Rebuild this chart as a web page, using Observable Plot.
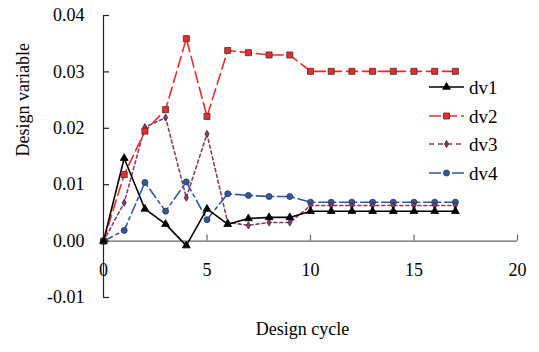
<!DOCTYPE html>
<html>
<head>
<meta charset="utf-8">
<script src="https://cdn.jsdelivr.net/npm/d3@7"></script>
<script src="https://cdn.jsdelivr.net/npm/@observablehq/plot@0.6"></script>
<style>
  html, body { margin: 0; padding: 0; background: #fff; }
  #wrap { position: relative; width: 539px; height: 352px; }
  #legend { position: absolute; left: 0; top: 0; }
  #wrap text { font-family: "Liberation Serif", "Times New Roman", serif !important; }
</style>
</head>
<body>
<div id="wrap"></div>
<script>
const cycles = [0,1,2,3,4,5,6,7,8,9,10,11,12,13,14,15,16,17];
const dv1 = [0, 0.0147, 0.0057, 0.0030, -0.0008, 0.0057, 0.0030, 0.0040, 0.0042, 0.0042, 0.0053, 0.0053, 0.0053, 0.0053, 0.0053, 0.0053, 0.0053, 0.0053];
const dv2 = [0, 0.0118, 0.0195, 0.0233, 0.0359, 0.0221, 0.0338, 0.0334, 0.0330, 0.0330, 0.0301, 0.0301, 0.0301, 0.0301, 0.0301, 0.0301, 0.0301, 0.0301];
const dv3 = [0, 0.0068, 0.0202, 0.0219, 0.0077, 0.0190, 0.0033, 0.0028, 0.0033, 0.0033, 0.0063, 0.0063, 0.0063, 0.0063, 0.0063, 0.0063, 0.0063, 0.0063];
const dv4 = [0, 0.0019, 0.0104, 0.0053, 0.0105, 0.0038, 0.0084, 0.0081, 0.0079, 0.0079, 0.0069, 0.0069, 0.0069, 0.0069, 0.0069, 0.0069, 0.0069, 0.0069];
const seriesNames = ["dv1", "dv2", "dv3", "dv4"];
const xTicks = [0, 5, 10, 15, 20];
const yTicks = [-0.01, 0, 0.01, 0.02, 0.03, 0.04];

const styles = {
  dv1: {color: "#000000", dash: null, symbol: "triangle", r: 2.9, fill: "#000000", stroke: "#000000"},
  dv2: {color: "#ee2b2b", dash: "11,5", symbol: "square", r: 3.4, fill: "#ee2b2b", stroke: "#333333"},
  dv3: {color: "#8c3a6c", dash: "3,3", symbol: "diamond", r: 2.2, fill: "#8c3a6c", stroke: "#333333"},
  dv4: {color: "#2b59aa", dash: "10,4,3,4", symbol: "circle", r: 3.0, fill: "#2b59aa", stroke: "#333333"}
};

const valuesBy = {dv1, dv2, dv3, dv4};
const rows = [];
for (const s of seriesNames) cycles.forEach((c, i) => rows.push({series: s, x: c, y: valuesBy[s][i]}));

const W = 539, H = 352, mL = 103, mR = 22, mT = 15, mB = 55;
const font = "Liberation Serif";
const yDom = [-0.01, 0.04];
const zeroPx = mT + (yDom[1] - 0) / (yDom[1] - yDom[0]) * (H - mT - mB);

const drawOrder = ["dv4", "dv3", "dv2", "dv1"];
const lineMarks = [];
for (const s of drawOrder) {
  const st = styles[s];
  const data = rows.filter(d => d.series === s);
  lineMarks.push(Plot.line(data, {x: "x", y: "y", stroke: st.color, strokeWidth: 1.6, strokeDasharray: st.dash}));
}
const dotMarks = [];
for (const s of drawOrder) {
  const st = styles[s];
  const data = rows.filter(d => d.series === s);
  dotMarks.push(Plot.dot(data, {x: "x", y: "y", symbol: () => st.symbol, r: st.r, fill: st.fill, stroke: st.stroke, strokeWidth: 0.8}));
}

const chart = Plot.plot({
  width: W, height: H,
  marginLeft: mL, marginRight: mR, marginTop: mT, marginBottom: mB,
  style: {fontFamily: font, fontSize: "18px", background: "#fff", color: "#000"},
  x: {domain: [0, 20], axis: null},
  y: {domain: yDom, axis: null},
  symbol: {type: "identity"},
  marks: [
    Plot.ruleY([0], {x1: 0, x2: 20, stroke: "#666", strokeWidth: 1.2}),
    Plot.ruleX([0], {y1: yDom[0], y2: yDom[1], stroke: "#222", strokeWidth: 1.2}),
    Plot.tickY(yTicks, {y: d => d, stroke: "#222", strokeWidth: 1.2, insetRight: W - mL - mR - 6}),
    Plot.tickX(xTicks.slice(1), {x: d => d, stroke: "#666", strokeWidth: 1.2, insetTop: zeroPx - 6 - mT, insetBottom: H - mB - zeroPx}),
    Plot.text(yTicks, {x: 0, y: d => d, text: d => d.toFixed(2), dx: -19, textAnchor: "end", fontSize: 18, fontFamily: font, fill: "#000"}),
    Plot.text(xTicks, {x: d => d, y: 0, text: d => String(d), dy: 29, fontSize: 18, fontFamily: font, fill: "#000"}),
    Plot.text(["Design variable"], {frameAnchor: "left", dx: -80, rotate: -90, fontSize: 18, fontFamily: font, fill: "#000"}),
    Plot.text(["Design cycle"], {frameAnchor: "bottom", dx: -8, dy: 37, fontSize: 18, fontFamily: font, fill: "#000"}),
    ...lineMarks,
    ...dotMarks
  ]
});

document.getElementById("wrap").appendChild(chart);

// legend overlay
const leg = d3.select("#wrap").append("svg").attr("id", "legend").attr("width", W).attr("height", H);
const legY = [87, 116, 144, 173];
seriesNames.forEach((s, i) => {
  const st = styles[s];
  const g = leg.append("g");
  g.append("line").attr("x1", 429).attr("x2", 464).attr("y1", legY[i]).attr("y2", legY[i])
    .attr("stroke", st.color).attr("stroke-width", 1.6)
    .attr("stroke-dasharray", s === "dv2" ? "12,4" : s === "dv3" ? "5,4" : s === "dv4" ? "12,4,3,4" : null);
  const sym = {triangle: d3.symbolTriangle, square: d3.symbolSquare, diamond: d3.symbolDiamond, circle: d3.symbolCircle}[st.symbol];
  g.append("path").attr("d", d3.symbol(sym, Math.PI * st.r * st.r)())
    .attr("transform", `translate(446.5,${legY[i]})`)
    .attr("fill", st.fill).attr("stroke", st.stroke).attr("stroke-width", 0.8);
  g.append("text").attr("x", 469).attr("y", legY[i]).attr("dy", "0.35em")
    .attr("font-family", font).attr("font-size", 19).attr("fill", "#000").text(s);
});
</script>
</body>
</html>
